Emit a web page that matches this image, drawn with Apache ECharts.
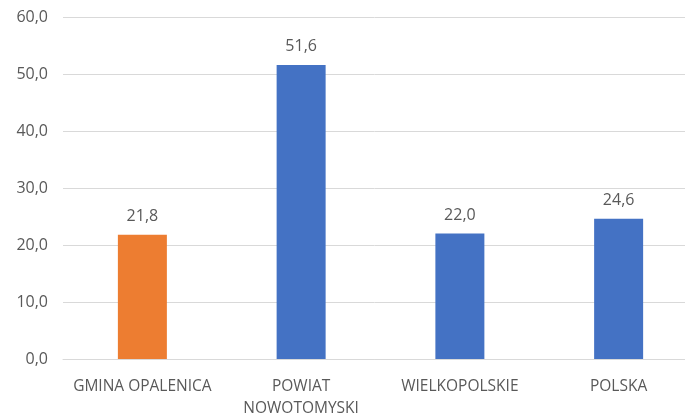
<!DOCTYPE html>
<html><head><meta charset="utf-8">
<script src="https://cdn.jsdelivr.net/npm/echarts@6/dist/echarts.min.js"></script>
<style>html,body{margin:0;padding:0;background:#fff}#c{width:685px;height:416px}</style>
</head><body><div id="c"></div>
<script>
const categories = ['GMINA OPALENICA', 'POWIAT\nNOWOTOMYSKI', 'WIELKOPOLSKIE', 'POLSKA'];
const values = [21.8, 51.6, 22.0, 24.6];
const barColors = ['#ED7D31', '#4472C4', '#4472C4', '#4472C4'];
const fmt = v => v.toFixed(1).replace('.', ',');
const chart = echarts.init(document.getElementById('c'));
chart.setOption({
  animation: false,
  grid: { left: 63, width: 635, top: 17, height: 342, containLabel: false, outerBoundsMode: 'none' },
  xAxis: {
    type: 'category', data: categories,
    axisLine: { lineStyle: { color: '#d9d9d9', width: 1 } },
    axisTick: { show: false },
    axisLabel: { color: '#595959', fontSize: 15.5, fontFamily: 'Open Sans', margin: 17, lineHeight: 22, interval: 0 }
  },
  yAxis: {
    type: 'value', min: 0, max: 60, interval: 10,
    axisLine: { show: false }, axisTick: { show: false },
    splitLine: { lineStyle: { color: '#d9d9d9', width: 1 } },
    axisLabel: { color: '#595959', fontSize: 16, fontFamily: 'Open Sans', margin: 15, formatter: v => fmt(v) }
  },
  series: [{
    type: 'bar', barWidth: 49,
    data: values.map((v, i) => ({ value: v, itemStyle: { color: barColors[i] } })),
    label: { show: true, position: 'top', distance: 10, color: '#595959', fontSize: 16, fontFamily: 'Open Sans', formatter: p => fmt(p.value) }
  }]
});
</script></body></html>
